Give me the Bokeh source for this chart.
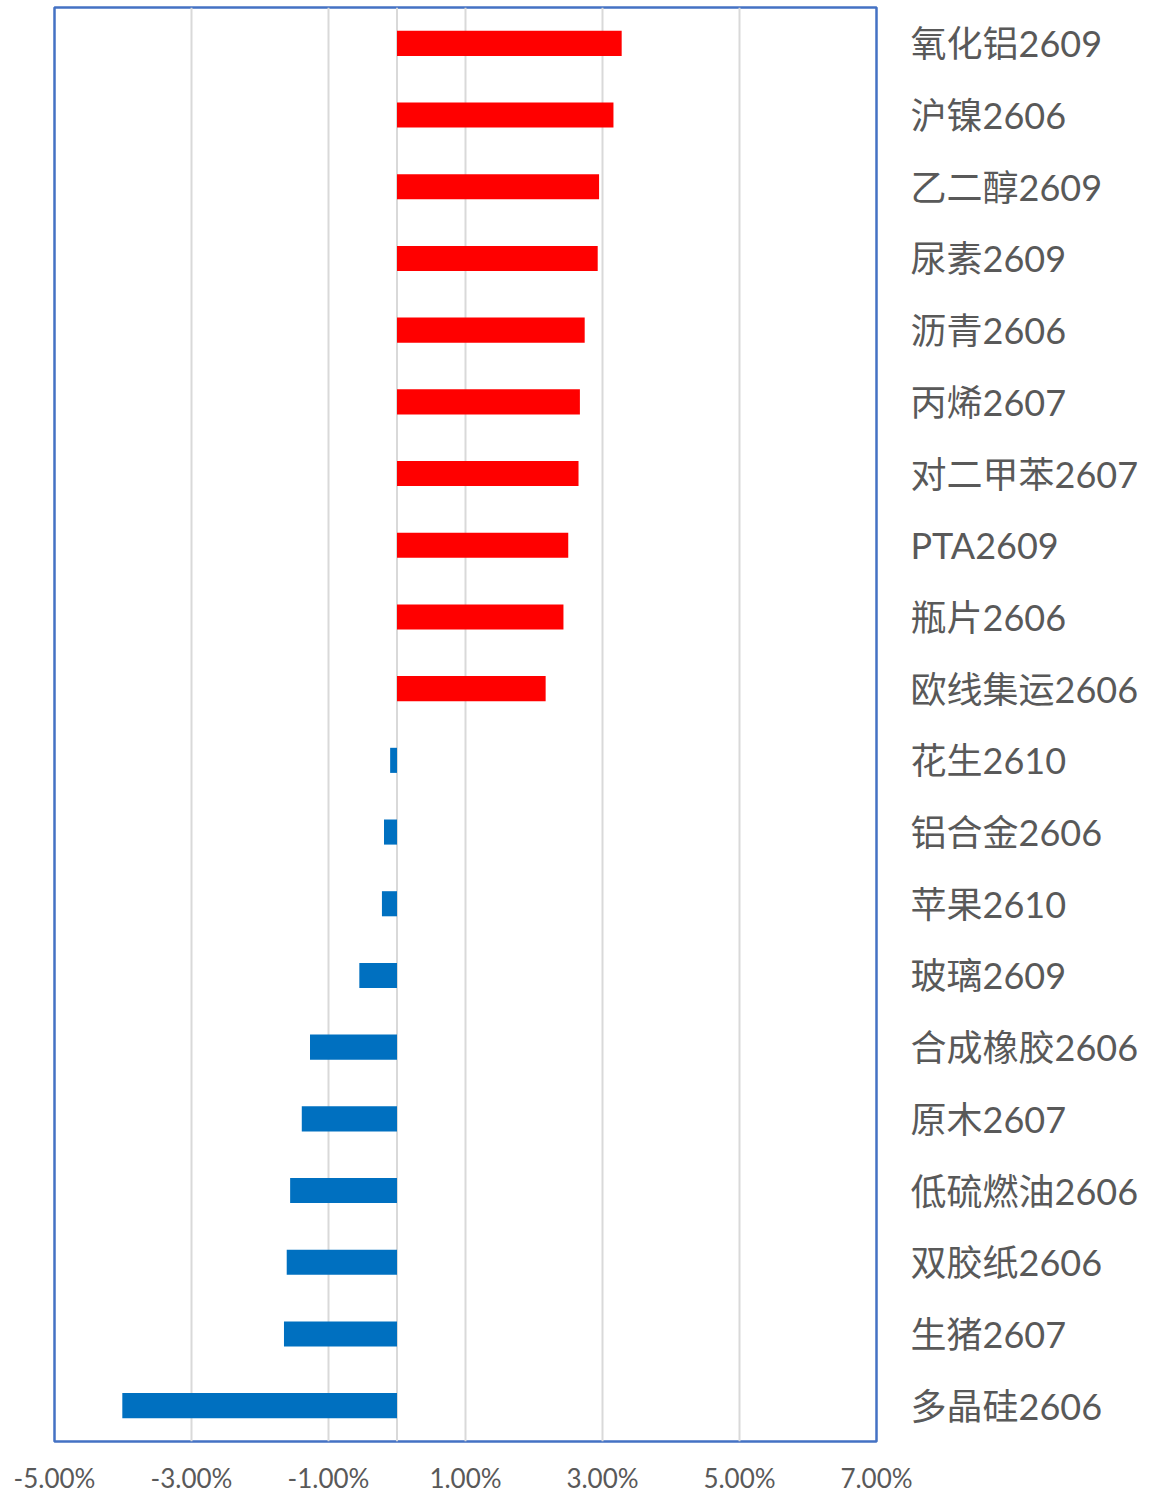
from bokeh.plotting import figure
from bokeh.models import ColumnDataSource, FactorRange, Range1d, FixedTicker, PrintfTickFormatter, Span
from bokeh.embed import file_html
from bokeh.resources import INLINE

categories = ["氧化铝2609", "沪镍2606", "乙二醇2609", "尿素2609", "沥青2606", "丙烯2607",
              "对二甲苯2607", "PTA2609", "瓶片2606", "欧线集运2606", "花生2610", "铝合金2606",
              "苹果2610", "玻璃2609", "合成橡胶2606", "原木2607", "低硫燃油2606", "双胶纸2606",
              "生猪2607", "多晶硅2606"]
values = [3.28, 3.16, 2.95, 2.93, 2.74, 2.67, 2.65, 2.50, 2.43, 2.17,
          -0.10, -0.19, -0.22, -0.55, -1.27, -1.39, -1.56, -1.61, -1.65, -4.01]
x_ticks = [-5, -3, -1, 1, 3, 5, 7]
x_min, x_max = -5, 7

colors = ["#FF0000" if v >= 0 else "#0070C0" for v in values]
source = ColumnDataSource(dict(cat=categories, val=values, color=colors))

p = figure(width=1165, height=1497, output_backend="svg", toolbar_location=None,
           y_range=FactorRange(factors=categories[::-1]),
           x_range=Range1d(x_min, x_max), y_axis_location="right",
           min_border_left=54, min_border_right=289, min_border_top=7, min_border_bottom=56)

p.hbar(y="cat", left=0, right="val", height=0.35, color="color", line_color=None, source=source)

p.add_layout(Span(location=0, dimension="height", line_color="#D9D9D9", line_width=2, level="underlay"))

p.outline_line_color = "#4472C4"
p.outline_line_width = 2.5
p.background_fill_color = "white"
p.border_fill_color = "white"

p.xgrid.grid_line_color = "#D9D9D9"
p.xgrid.grid_line_width = 2
p.ygrid.grid_line_color = None

p.xaxis.ticker = FixedTicker(ticks=x_ticks)
p.xaxis.formatter = PrintfTickFormatter(format="%.2f%%")
p.xaxis.axis_line_color = None
p.xaxis.major_tick_line_color = None
p.xaxis.minor_tick_line_color = None
p.xaxis.major_label_text_font = "Lato"
p.xaxis.major_label_text_font_size = "26px"
p.xaxis.major_label_text_color = "#595959"
p.xaxis.major_label_standoff = 14

p.yaxis.axis_line_color = None
p.yaxis.major_tick_line_color = None
p.yaxis.minor_tick_line_color = None
p.yaxis.major_label_text_font = 'Lato, "Noto Sans CJK SC"'
p.yaxis.major_label_text_font_size = "36px"
p.yaxis.major_label_text_color = "#595959"
p.yaxis.major_label_standoff = 28

open("out.html", "w").write(file_html(p, INLINE))
